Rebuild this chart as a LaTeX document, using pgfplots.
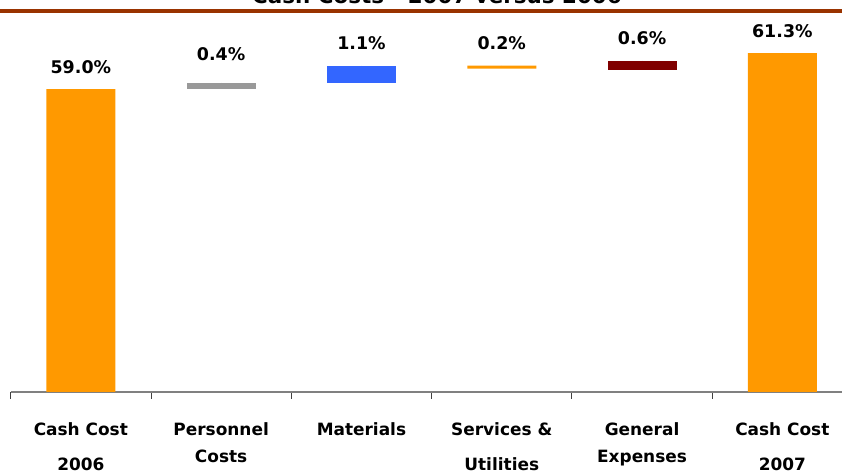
\documentclass[border=0pt]{standalone}
\usepackage{pgfplots}
\pgfplotsset{compat=1.18}
\usepackage{pgfplotstable}
\usepackage{fontspec}
\setmainfont{DejaVu Sans}

\definecolor{barorange}{HTML}{FF9900}
\definecolor{bargray}{HTML}{999999}
\definecolor{barblue}{HTML}{3366FF}
\definecolor{bardred}{HTML}{800000}
\definecolor{titlerule}{HTML}{993300}
\definecolor{axisgray}{HTML}{808080}

% Waterfall: invisible base + one coloured segment per category
\pgfplotstableread{
x base orange gray blue dred
0 0    59.0   0    0    0
1 59.0 0      0.4  0    0
2 59.4 0      0    1.1  0
3 60.3 0.2    0    0    0
4 60.2 0      0    0    0.6
5 0    61.3   0    0    0
}\costs

\pgfplotsset{
  cashframe/.style={
    at={(10.7bp,82bp)}, anchor=south west,
    scale only axis, width=841.8bp, height=372bp,
    xmin=-0.5, xmax=5.5, ymin=39.64, ymax=63.41,
  },
  valuelabel/.style={
    only marks, mark=*, mark size=0pt, mark options={draw=none, fill=none},
    point meta=explicit,
    nodes near coords={\pgfmathprintnumber[fixed,fixed zerofill,precision=1]{\pgfplotspointmeta}\%},
    every node near coord/.append style={font=\fontsize{17.5}{20}\selectfont\bfseries,
      anchor=base, inner sep=0pt, text=black, yshift=#1},
  },
}

\begin{document}
\begin{tikzpicture}
\useasboundingbox (0,0) rectangle (842bp,474bp);
\clip (0,0) rectangle (842bp,474bp);

% title and rule
\node[font=\fontsize{21.5}{24}\selectfont\bfseries, anchor=base] at (437bp,470bp)
  {Cash Costs - 2007 versus 2006};
\draw[titlerule, line width=3.7bp] (0,463.15bp) -- (842bp,463.15bp);

\begin{axis}[
  cashframe,
  ybar stacked, bar width=69bp,
  axis x line*=bottom, axis y line=none,
  x axis line style={draw=axisgray, line width=1.3bp},
  xtick={-0.5,0.5,...,5.5}, xticklabels={,,,,,,},
  tick align=outside, major tick length=7bp,
  xtick style={draw=black!75, line width=1bp},
  ytick=\empty,
  extra x ticks={0,1,2,3,4,5},
  extra x tick labels={{Cash Cost\\[7.5bp]2006},{Personnel\\Costs},{Materials},
    {Services \&\\[7.5bp]Utilities},{General\\Expenses},{Cash Cost\\[7.5bp]2007}},
  extra x tick style={major tick length=0pt,
    tick label style={font=\fontsize{17}{27.7}\selectfont\bfseries,
      align=center, anchor=north, yshift=-27bp}},
]
\addplot[fill=none, draw=none] table[x=x, y=base] \costs;
\addplot[fill=barorange, draw=none] table[x=x, y=orange] \costs;
\addplot[fill=bargray, draw=none] table[x=x, y=gray] \costs;
\addplot[fill=barblue, draw=none] table[x=x, y=blue] \costs;
\addplot[fill=bardred, draw=none] table[x=x, y=dred] \costs;
\end{axis}

% value labels, placed at the top of each bar
\begin{axis}[cashframe, hide axis, clip=false,
  /pgf/number format/assume math mode=true]
\addplot[valuelabel=16bp] coordinates {
  (0,59.0) [59.0]
  (2,60.5) [1.1]
  (3,60.5) [0.2]
  (4,60.8) [0.6]
  (5,61.3) [61.3]
};
\addplot[valuelabel=22bp] coordinates {(1,59.4) [0.4]};
\end{axis}
\end{tikzpicture}
\end{document}
